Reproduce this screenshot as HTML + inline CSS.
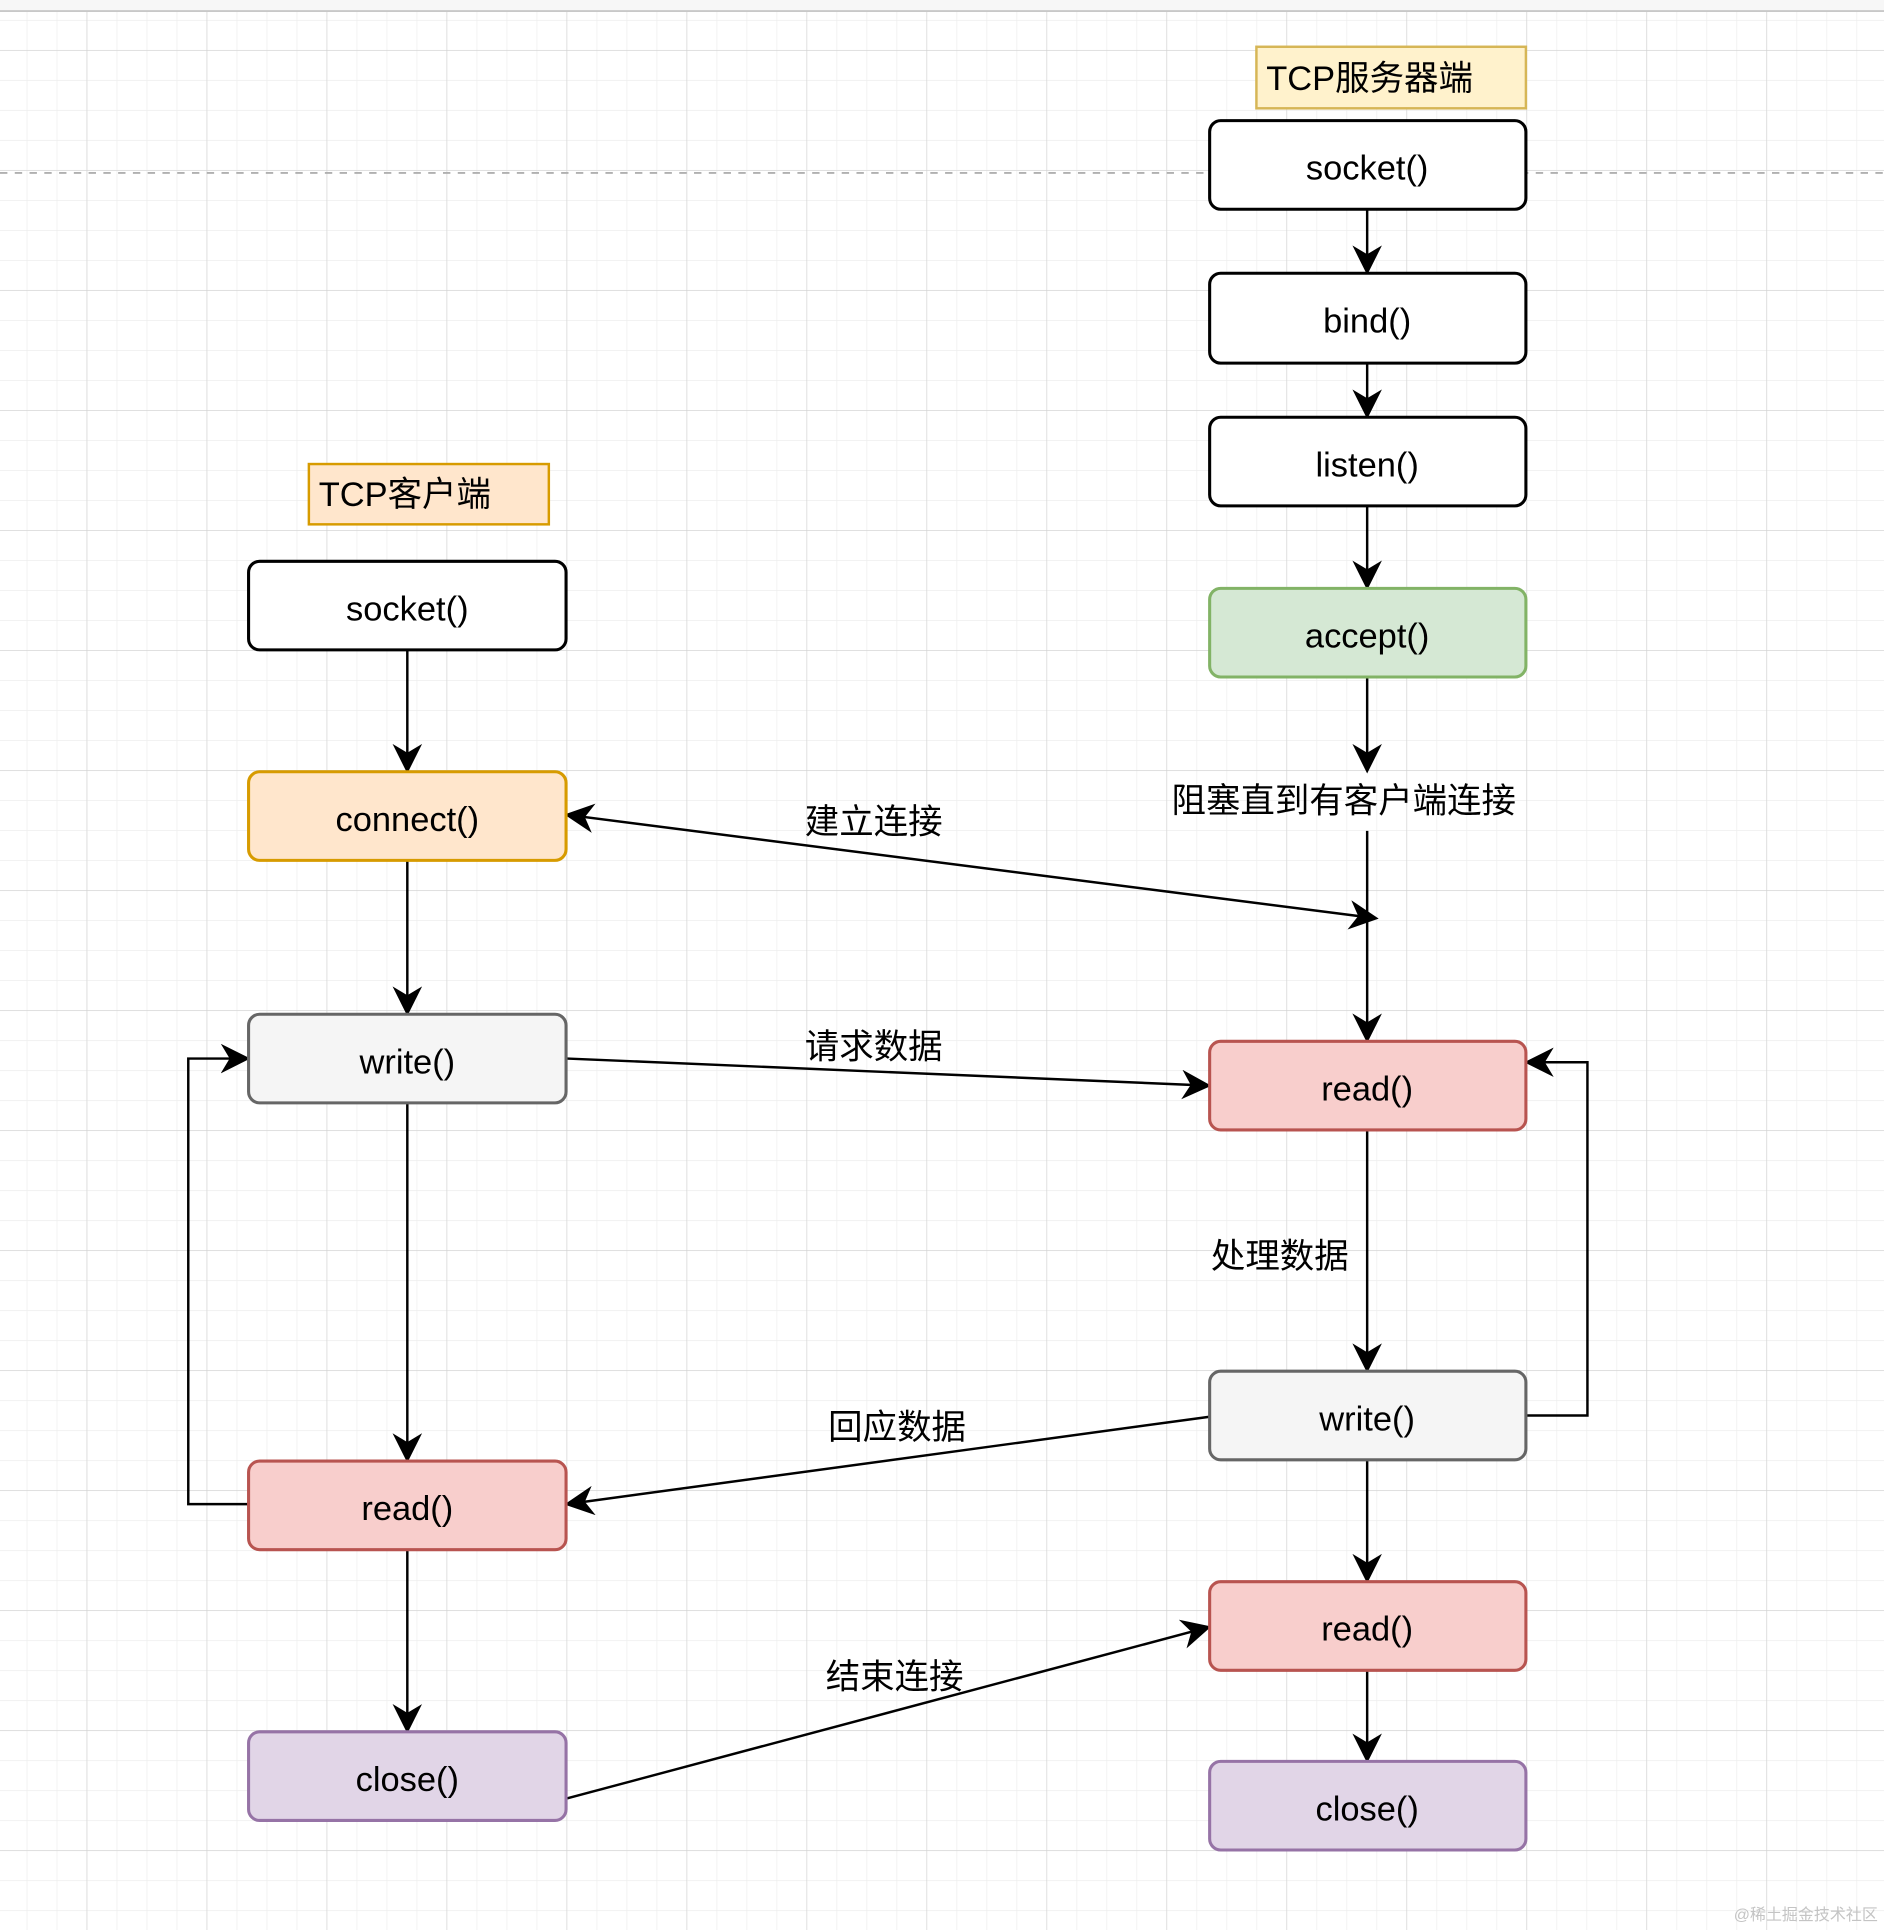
<!DOCTYPE html>
<html><head><meta charset="utf-8"><style>
html,body{margin:0;padding:0;background:#fff;}
svg{display:block;}
text{font-family:"Liberation Sans","Noto Sans CJK SC",sans-serif;}
</style></head><body>
<svg width="1884" height="1930" viewBox="0 0 1531 1568" preserveAspectRatio="none" xmlns="http://www.w3.org/2000/svg">
<defs>
<pattern id="minor" x="70.4" y="40.6" width="24.375" height="24.375" patternUnits="userSpaceOnUse">
<path d="M0 0H24.375M0 0V24.375" stroke="#eeeeee" stroke-width="1.2" fill="none"/>
</pattern>
<pattern id="major" x="70.4" y="40.6" width="97.5" height="97.5" patternUnits="userSpaceOnUse">
<path d="M0 0H97.5M0 0V97.5" stroke="#d2d2d2" stroke-width="1" fill="none"/>
</pattern>
<marker id="arL" viewBox="0 0 10 10" refX="9" refY="5" markerWidth="24" markerHeight="24" orient="auto-start-reverse" markerUnits="userSpaceOnUse">
<path d="M0 0 L10 5 L0 10 L3 5 Z" fill="#000"/>
</marker>
</defs>
<rect width="1531" height="1568" fill="#fff"/>
<rect width="1531" height="1568" fill="url(#minor)"/>
<rect width="1531" height="1568" fill="url(#major)"/>
<rect width="1531" height="8.5" fill="#f7f7f7"/>
<line x1="0" y1="9" x2="1531" y2="9" stroke="#c8c8c8" stroke-width="1.5"/>
<line x1="0" y1="140.5" x2="1531" y2="140.5" stroke="#b0b0b0" stroke-width="1.5" stroke-dasharray="6,6"/>

<g stroke="#000" stroke-width="2" fill="none" marker-end="url(#arL)">
<line x1="1111" y1="170" x2="1111" y2="221"/>
<line x1="1111" y1="295" x2="1111" y2="338"/>
<line x1="1111" y1="411" x2="1111" y2="477"/>
<line x1="1111" y1="550" x2="1111" y2="626"/>
<line x1="1111" y1="675" x2="1111" y2="845"/>
<line x1="1111" y1="918" x2="1111" y2="1113"/>
<line x1="1111" y1="1186" x2="1111" y2="1284"/>
<line x1="1111" y1="1357" x2="1111" y2="1430"/>
<line x1="331" y1="528" x2="331" y2="626"/>
<line x1="331" y1="699" x2="331" y2="823"/>
<line x1="331" y1="896" x2="331" y2="1186"/>
<line x1="331" y1="1259" x2="331" y2="1406"/>
<line x1="461" y1="662" x2="1118" y2="746" marker-start="url(#arL)"/>
<line x1="461" y1="860" x2="982" y2="882"/>
<line x1="983" y1="1151" x2="461" y2="1222"/>
<line x1="461" y1="1461" x2="982" y2="1322"/>
<polyline points="202,1222 153,1222 153,860 201,860"/>
<polyline points="1240,1150 1290,1150 1290,863 1241,863"/>
</g>

<g stroke-width="2.5">
<rect x="1021" y="38" width="219" height="50" fill="#fff2cc" stroke="#d6b656" stroke-width="2"/>
<rect x="251" y="377" width="195" height="49" fill="#ffe6cc" stroke="#d79b00" stroke-width="2"/>
<rect x="983" y="98" width="257" height="72" rx="9" fill="#fff" stroke="#000"/>
<rect x="983" y="222" width="257" height="73" rx="9" fill="#fff" stroke="#000"/>
<rect x="983" y="339" width="257" height="72" rx="9" fill="#fff" stroke="#000"/>
<rect x="983" y="478" width="257" height="72" rx="9" fill="#d5e8d4" stroke="#82b366"/>
<rect x="983" y="846" width="257" height="72" rx="9" fill="#f8cecc" stroke="#b85450"/>
<rect x="983" y="1114" width="257" height="72" rx="9" fill="#f5f5f5" stroke="#666"/>
<rect x="983" y="1285" width="257" height="72" rx="9" fill="#f8cecc" stroke="#b85450"/>
<rect x="983" y="1431" width="257" height="72" rx="9" fill="#e1d5e7" stroke="#9673a6"/>
<rect x="202" y="456" width="258" height="72" rx="9" fill="#fff" stroke="#000"/>
<rect x="202" y="627" width="258" height="72" rx="9" fill="#ffe6cc" stroke="#d79b00"/>
<rect x="202" y="824" width="258" height="72" rx="9" fill="#f5f5f5" stroke="#666"/>
<rect x="202" y="1187" width="258" height="72" rx="9" fill="#f8cecc" stroke="#b85450"/>
<rect x="202" y="1407" width="258" height="72" rx="9" fill="#e1d5e7" stroke="#9673a6"/>
</g>

<g font-size="28" text-anchor="middle" fill="#000">
<text x="1113" y="73">TCP服务器端</text>
<text x="329" y="411">TCP客户端</text>
<text x="1111" y="146">socket()</text>
<text x="1111" y="270">bind()</text>
<text x="1111" y="387">listen()</text>
<text x="1111" y="526">accept()</text>
<text x="1111" y="894">read()</text>
<text x="1111" y="1162">write()</text>
<text x="1111" y="1333">read()</text>
<text x="1111" y="1479">close()</text>
<text x="331" y="504">socket()</text>
<text x="331" y="675">connect()</text>
<text x="331" y="872">write()</text>
<text x="331" y="1235">read()</text>
<text x="331" y="1455">close()</text>
<text x="1092" y="660">阻塞直到有客户端连接</text>
<text x="710" y="677">建立连接</text>
<text x="710" y="860">请求数据</text>
<text x="1040" y="1030">处理数据</text>
<text x="729" y="1169">回应数据</text>
<text x="727" y="1372">结束连接</text>
</g>
<text x="1526" y="1560" font-size="13" text-anchor="end" fill="#c4c4c4" font-family="'Noto Serif CJK SC',serif">@稀土掘金技术社区</text>
</svg>
</body></html>
